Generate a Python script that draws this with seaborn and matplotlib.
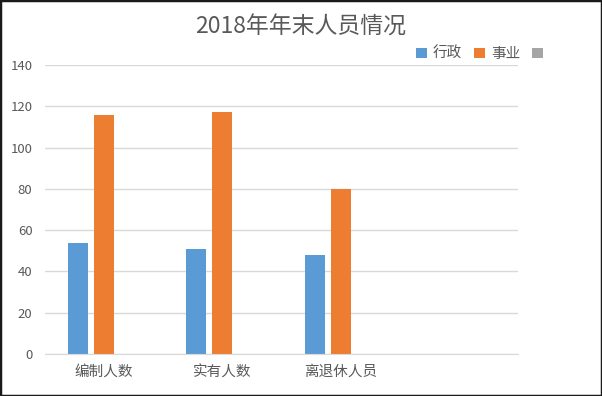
import numpy as np
import pandas as pd
import matplotlib
matplotlib.use('Agg')
import matplotlib.pyplot as plt
import seaborn as sns
from matplotlib.patches import Patch, Rectangle

# data
categories = ['编制人数', '实有人数', '离退休人员', '']
series = ['行政', '事业', ' ']
xingzheng = [54, 51, 48]
shiye = [116, 117, 80]
third = [0, 0, 0]
colors = ['#5B9BD5', '#ED7D31', '#A5A5A5']

rows = []
for s, vals in zip(series, [xingzheng, shiye, third]):
    for c, v in zip(categories[:3], vals):
        rows.append({'category': c, 'series': s, 'value': v})
df = pd.DataFrame(rows)

sns.set_style('white')
plt.rcParams['font.family'] = ['Noto Sans CJK SC', 'DejaVu Sans']

fig = plt.figure(figsize=(6.02, 3.96), dpi=100)
ax = fig.add_axes([45/602, 1-354/396, 473/602, 289/396])

sns.barplot(data=df, x='category', y='value', hue='series', order=categories,
            hue_order=series, palette=colors, saturation=1, width=0.66, gap=0.23,
            linewidth=0, ax=ax, legend=False)

ax.set_ylim(0, 140)
ax.set_xlim(-0.5, 3.5)
ax.set_yticks(np.arange(0, 141, 20))
ax.yaxis.grid(True, color='#D9D9D9', linewidth=1)
ax.set_axisbelow(True)
for sp in ['top', 'right', 'left']:
    ax.spines[sp].set_visible(False)
ax.spines['bottom'].set_color('#D9D9D9')
ax.tick_params(axis='y', length=0, pad=9, labelsize=9.5, labelcolor='#595959')
ax.tick_params(axis='x', length=0, pad=8, labelsize=10.5, labelcolor='#595959')
ax.set_xlabel('')
ax.set_ylabel('')

fig.suptitle('2018年年末人员情况', x=0.5, y=1-27/396, va='center',
             fontsize=16.5, color='#595959')

handles = [Patch(facecolor=c, edgecolor='none') for c in colors]
fig.legend(handles, series, loc='center left', bbox_to_anchor=(409/602, 1-54/396),
           ncol=3, frameon=False, fontsize=10.5, labelcolor='#595959',
           handlelength=0.75, handleheight=0.75, handletextpad=0.4,
           columnspacing=0.8, borderpad=0)

fig.patches.append(Rectangle((0, 0), 1, 1, transform=fig.transFigure,
                             fill=False, edgecolor='#1a1a1a', linewidth=2.5))

fig.savefig('out.png', dpi=100)
